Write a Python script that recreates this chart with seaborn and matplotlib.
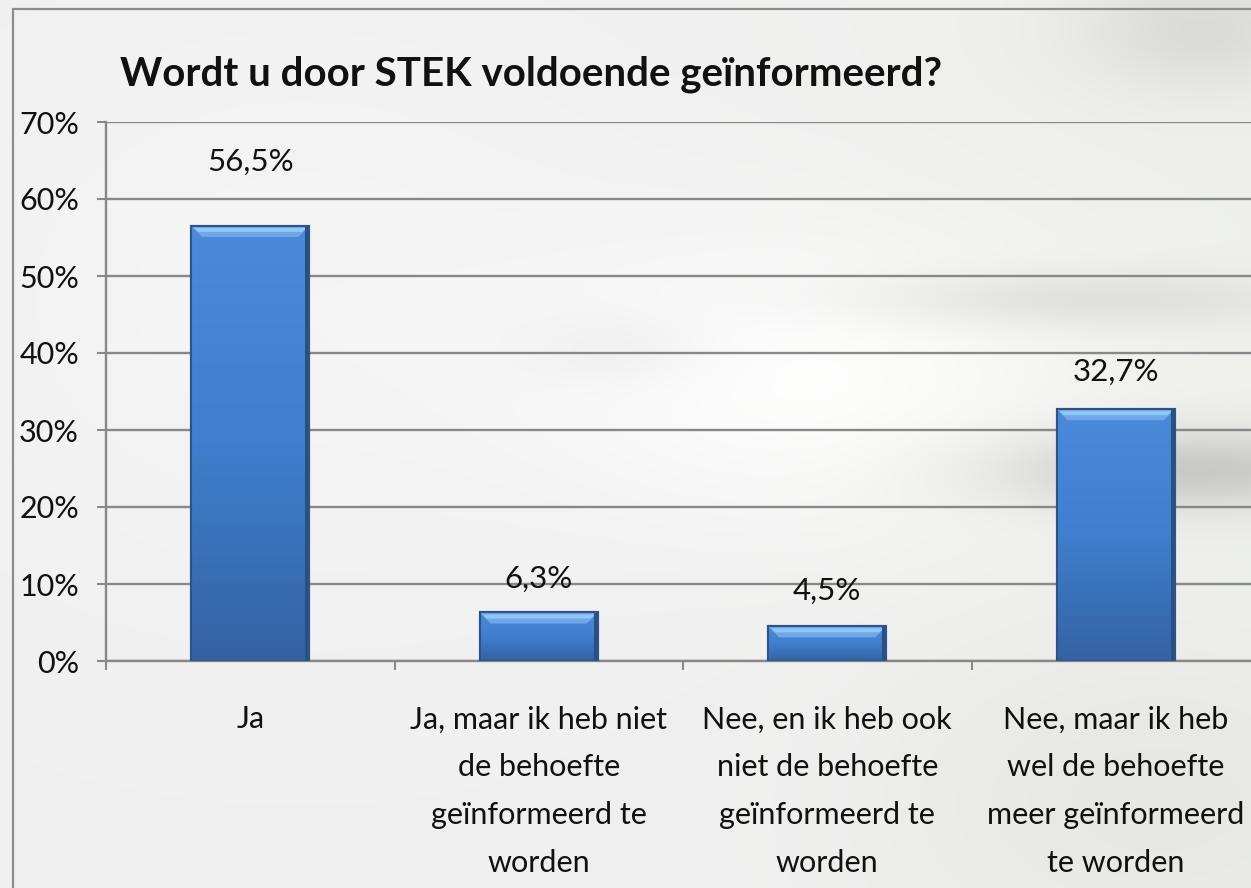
import numpy as np
import pandas as pd
import matplotlib
matplotlib.use("Agg")
import matplotlib.pyplot as plt
import seaborn as sns
from matplotlib.colors import LinearSegmentedColormap
from matplotlib.patches import Polygon, Rectangle
from matplotlib.ticker import FixedLocator


title = "Wordt u door STEK voldoende geïnformeerd?"
categories = ["Ja",
              "Ja, maar ik heb niet\nde behoefte\ngeïnformeerd te\nworden",
              "Nee, en ik heb ook\nniet de behoefte\ngeïnformeerd te\nworden",
              "Nee, maar ik heb\nwel de behoefte\nmeer geïnformeerd\nte worden"]
values = [56.5, 6.3, 4.5, 32.7]
y_ticks = [0, 10, 20, 30, 40, 50, 60, 70]

# label distance above bar top, in pixels (as placed in the original)
label_offset_px = [64, 34, 36, 37]

df = pd.DataFrame({"antwoord": categories, "pct": values})

sns.set_style("white")
plt.rcParams["font.family"] = ["Lato", "DejaVu Sans"]

W, H = 1251, 888
fig = plt.figure(figsize=(W / 100, H / 100), dpi=100)

# soft blurred photo-like background
bg = fig.add_axes([0, 0, 1, 1], zorder=-10)
yy, xx = np.mgrid[0:H, 0:W].astype(float)
def blob(cx, cy, sx, sy, amp):
    return amp * np.exp(-((xx - cx) / sx) ** 2 - ((yy - cy) / sy) ** 2)
lum = (0.94
       + blob(820, 380, 260, 140, 0.05)
       + blob(300, 300, 400, 300, 0.02)
       - blob(1190, 470, 190, 40, 0.15)
       - blob(1080, 300, 220, 28, 0.07)
       - blob(1200, 30, 120, 60, 0.08)
       - blob(1150, 800, 250, 150, 0.03)
       - blob(620, 350, 90, 35, 0.03))
lum = np.clip(lum, 0, 1)
tint = np.clip((xx - 700) / 550, 0, 1) * 0.015
img = np.dstack([lum - tint * 0.3, lum, lum - tint])
bg.imshow(np.clip(img, 0, 1), aspect="auto", extent=(0, W, H, 0))
bg.set_xlim(0, W)
bg.set_ylim(H, 0)
bg.axis("off")

# chart border (runs off the right and bottom edge)
fig.patches.append(Rectangle((13 / W, -0.05), 1.1, (H - 9) / H + 0.05,
                             transform=fig.transFigure, fill=False,
                             edgecolor="#8c8c8c", linewidth=1.6))

ax = fig.add_axes([106 / W, 227 / H, 1154 / W, 539 / H])
ax.patch.set_alpha(0)

sns.barplot(data=df, x="antwoord", y="pct", ax=ax, color="#3d7bc6",
            saturation=1, width=0.41, edgecolor="#2c5488", linewidth=1.5,
            zorder=3)

ax.set_xlim(-0.5, 3.5)
ax.set_ylim(0, 70)

# gradient fill and bevel highlight on each bar
grad_cmap = LinearSegmentedColormap.from_list("bar", ["#4a8ad8", "#3f7fcd", "#3462a4"])
grad = np.linspace(0, 1, 256).reshape(-1, 1)
px_y = 70 / 539
px_x = 4 / 1154
for p, off, v in zip(ax.patches, label_offset_px, values):
    x0, w, h = p.get_x(), p.get_width(), p.get_height()
    im = ax.imshow(grad, extent=(x0, x0 + w, 0, h), aspect="auto",
                   cmap=grad_cmap, origin="upper", zorder=3.5)
    im.set_clip_path(p)
    bev = 11
    ax.add_patch(Polygon([(x0, h), (x0 + w, h), (x0 + w - bev * px_x, h - bev * px_y),
                          (x0 + bev * px_x, h - bev * px_y)],
                         closed=True, facecolor="#6fa8e8", edgecolor="none",
                         zorder=3.6))
    ax.add_patch(Polygon([(x0 + 3 * px_x, h - 2 * px_y), (x0 + w - 3 * px_x, h - 2 * px_y),
                          (x0 + w - 7 * px_x, h - 6 * px_y), (x0 + 7 * px_x, h - 6 * px_y)],
                         closed=True, facecolor="#93c6f5", edgecolor="none",
                         zorder=3.65))
    ax.add_patch(Rectangle((x0 + w - 4 * px_x, 0), 4 * px_x, h,
                           facecolor="#2a4f82", edgecolor="none", zorder=3.7))
    ax.add_patch(Rectangle((x0, 0), w, h, fill=False, edgecolor="#2c5488",
                           linewidth=1.5, zorder=3.8))
    ax.annotate(f"{v:.1f}%".replace(".", ","), (x0 + w / 2, h),
                xytext=(0, off * 0.72), textcoords="offset points",
                ha="center", va="center", fontsize=22.5, color="#111111")
ax.set_xlim(-0.5, 3.5)
ax.set_ylim(0, 70)

grid_col = "#888888"
ax.yaxis.set_major_locator(FixedLocator(y_ticks))
ax.set_yticklabels([f"{t}%" for t in y_ticks])
ax.yaxis.grid(True, color=grid_col, linewidth=1.7)
ax.set_axisbelow(True)
ax.tick_params(axis="y", direction="out", length=6.5, width=1.5,
               color=grid_col, pad=13, labelsize=22, labelcolor="#111111", left=True)

ax.set_xticks(range(len(categories)))
ax.set_xticklabels(categories, fontsize=22, color="#111111", linespacing=1.86)
ax.xaxis.set_minor_locator(FixedLocator([-0.5, 0.5, 1.5, 2.5, 3.5]))
ax.tick_params(axis="x", which="major", length=0, pad=32)
ax.tick_params(axis="x", which="minor", direction="out", length=6.5,
               width=1.5, color=grid_col, bottom=True)

for side in ["top", "right"]:
    ax.spines[side].set_visible(False)
for side in ["left", "bottom"]:
    ax.spines[side].set_color(grid_col)
    ax.spines[side].set_linewidth(1.7)

ax.set_xlabel("")
ax.set_ylabel("")

fig.text(531 / W, 1 - 74 / H, title, ha="center", va="center",
         fontsize=29, fontweight="bold", color="#111111")

fig.savefig("out.png", dpi=100)
